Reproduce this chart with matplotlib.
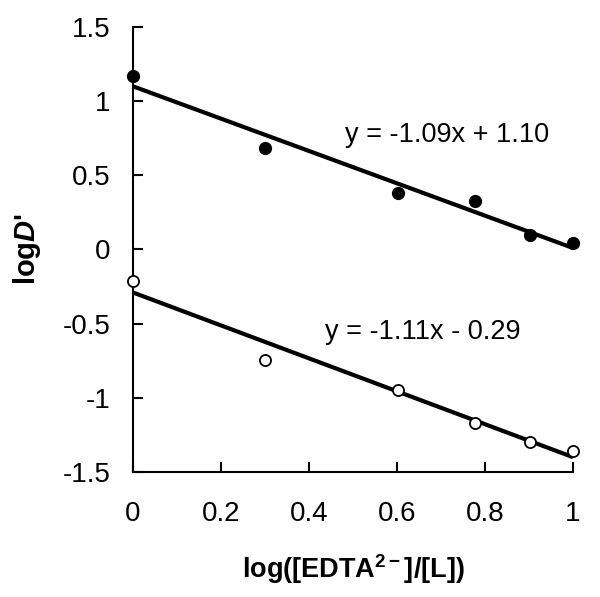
import matplotlib
matplotlib.use("Agg")
import matplotlib.pyplot as plt
import numpy as np

plt.rcParams['font.family'] = ['Liberation Sans', 'DejaVu Sans']
plt.rcParams['mathtext.fontset'] = 'custom'
plt.rcParams['mathtext.rm'] = 'Liberation Sans'
plt.rcParams['mathtext.it'] = 'Liberation Sans:italic:bold'
plt.rcParams['mathtext.bf'] = 'Liberation Sans:bold'

x_vals = [0.0, 0.301, 0.602, 0.778, 0.903, 1.0]
filled_y = [1.17, 0.686, 0.383, 0.325, 0.098, 0.046]
open_y = [-0.213, -0.745, -0.948, -1.168, -1.296, -1.359]
fit1 = (-1.09, 1.10)
fit2 = (-1.11, -0.29)
eq1 = "y = -1.09x + 1.10"
eq2 = "y = -1.11x - 0.29"
xticks = [0, 0.2, 0.4, 0.6, 0.8, 1]
xtick_labels = ["0", "0.2", "0.4", "0.6", "0.8", "1"]
yticks = [-1.5, -1, -0.5, 0, 0.5, 1, 1.5]
ytick_labels = ["-1.5", "-1", "-0.5", "0", "0.5", "1", "1.5"]

fig = plt.figure(figsize=(6.0, 5.97), dpi=100)
ax = fig.add_axes([0.2217, 0.2094, 0.7333, 0.7454])

xl = np.array([0.0, 1.0])
ax.plot(xl, fit1[0] * xl + fit1[1], color='black', lw=3.0, zorder=2, solid_capstyle='butt')
ax.plot(xl, fit2[0] * xl + fit2[1], color='black', lw=3.0, zorder=2, solid_capstyle='butt')
ax.plot(x_vals, filled_y, 'o', color='black', ms=8.5, zorder=3, clip_on=False)
ax.plot(x_vals, open_y, 'o', mfc='white', mec='black', mew=1.3, ms=8, zorder=3, clip_on=False)

ax.text(0.714, 0.772, eq1, fontsize=19.5, ha='center', va='center')
ax.text(0.659, -0.557, eq2, fontsize=19.5, ha='center', va='center')

ax.set_xlim(0, 1)
ax.set_ylim(-1.5, 1.5)
ax.set_xticks(xticks)
ax.set_xticklabels(xtick_labels)
ax.set_yticks(yticks)
ax.set_yticklabels(ytick_labels)
ax.spines['top'].set_visible(False)
ax.spines['right'].set_visible(False)
for s in ['left', 'bottom']:
    ax.spines[s].set_linewidth(1.5)
ax.tick_params(axis='both', direction='in', length=7, width=1.5, labelsize=20)
ax.tick_params(axis='x', pad=21)
ax.tick_params(axis='y', pad=16)

ax.set_xlabel(r'log([EDTA$^{\mathbf{2-}}$]/[L])', fontsize=19.5, fontweight='bold', labelpad=18)
ax.set_ylabel(r"log$\mathit{D}$'", fontsize=21, fontweight='bold', labelpad=14)

fig.savefig('out.png', dpi=100)
